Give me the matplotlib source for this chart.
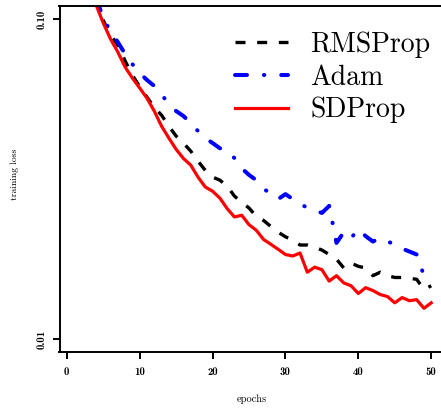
import matplotlib
matplotlib.use("Agg")
import matplotlib.pyplot as plt
from matplotlib.ticker import NullLocator

plt.rcParams['axes.unicode_minus'] = False
plt.rcParams['lines.scale_dashes'] = False

epochs = list(range(1, 51))

rmsprop = [0.5, 0.25, 0.15, 0.115, 0.099, 0.0891, 0.083, 0.074, 0.0668, 0.0615,
           0.0570, 0.0530, 0.0501, 0.0463, 0.0431, 0.0410, 0.0387, 0.0360, 0.0337, 0.0321,
           0.0314, 0.0301, 0.0280, 0.0268, 0.0257, 0.0242, 0.0235, 0.0225, 0.0216, 0.0209,
           0.0204, 0.0197, 0.0197, 0.0194, 0.0190, 0.0184, 0.0178, 0.0167, 0.0173, 0.0169,
           0.0167, 0.0158, 0.0162, 0.0158, 0.0156, 0.0156, 0.0155, 0.0154, 0.0143, 0.0147]

adam = [0.5, 0.26, 0.16, 0.118, 0.100, 0.0917, 0.0847, 0.0778, 0.0723, 0.0678,
        0.0645, 0.0618, 0.0579, 0.0546, 0.0516, 0.0498, 0.0473, 0.0447, 0.0425, 0.0410,
        0.0395, 0.0387, 0.0368, 0.0342, 0.0326, 0.0314, 0.0296, 0.0283, 0.0274, 0.0284,
        0.0274, 0.0264, 0.0258, 0.0253, 0.0248, 0.0261, 0.0200, 0.0216, 0.0207, 0.0221,
        0.0210, 0.0202, 0.0207, 0.0202, 0.0198, 0.0192, 0.0188, 0.0184, 0.0158, 0.0158]

sdprop = [0.45, 0.22, 0.14, 0.111, 0.0972, 0.0866, 0.0789, 0.0708, 0.0654, 0.0609,
          0.0566, 0.0516, 0.0463, 0.0425, 0.0392, 0.0367, 0.0350, 0.0321, 0.0299, 0.0290,
          0.0276, 0.0256, 0.0241, 0.0244, 0.0228, 0.0219, 0.0205, 0.0198, 0.0191, 0.0184,
          0.0182, 0.0186, 0.0162, 0.0168, 0.0165, 0.0152, 0.0158, 0.0150, 0.0147, 0.0139,
          0.0145, 0.0142, 0.0138, 0.0136, 0.0130, 0.0135, 0.0132, 0.0133, 0.0125, 0.0130]

labels = ["RMSProp", "Adam", "SDProp"]
xticks = [0, 10, 20, 30, 40, 50]
yticks = [0.01, 0.1]
ytick_labels = ["0.01", "0.10"]

fig = plt.figure(figsize=(4.41, 4.09), dpi=100)
ax = fig.add_axes([59.5/441, 57.3/409, (441-59.5)/441, 345.7/409])

ax.plot(epochs, rmsprop, color='black', lw=2.4, dashes=(7.2, 8.4),
        dash_capstyle='butt', label=labels[0])
ax.plot(epochs, adam, color='#0000ff', lw=2.9, dashes=(8.6, 12.2, 0.3, 12.2),
        dash_capstyle='round', label=labels[1])
ax.plot(epochs, sdprop, color='#ff0000', lw=2.3, label=labels[2])

ax.set_yscale('log')
ax.set_xlim(-1, 51.34)
ax.set_ylim(0.00915, 0.1098)

ax.set_xticks(xticks, [str(t) for t in xticks], fontfamily='cmb10', fontsize=7.8)
ax.set_yticks(yticks, ytick_labels, fontfamily='cmb10', fontsize=7.8,
              rotation=90, va='center')
ax.yaxis.set_minor_locator(NullLocator())
ax.tick_params(axis='both', direction='out', length=5, width=1.4)
ax.tick_params(axis='x', pad=6)
ax.tick_params(axis='y', pad=4)

for s in ['left', 'bottom', 'top']:
    ax.spines[s].set_linewidth(1.4)
ax.spines['right'].set_visible(False)

ax.set_xlabel("epochs", fontfamily='cmr10', fontsize=7.5, va='center')
ax.xaxis.set_label_coords(0.505, -0.137)
ax.set_ylabel("training loss", fontfamily='cmr10', fontsize=7, va='center')
ax.yaxis.set_label_coords(-0.1166, 0.514)

leg = ax.legend(loc='upper right', bbox_to_anchor=(1.031, 0.99), frameon=False,
                prop={'family': 'cmr10', 'size': 20}, handlelength=1.9,
                handletextpad=0.8, labelspacing=0.22, borderpad=0.3)

fig.savefig("out.png", dpi=100)
